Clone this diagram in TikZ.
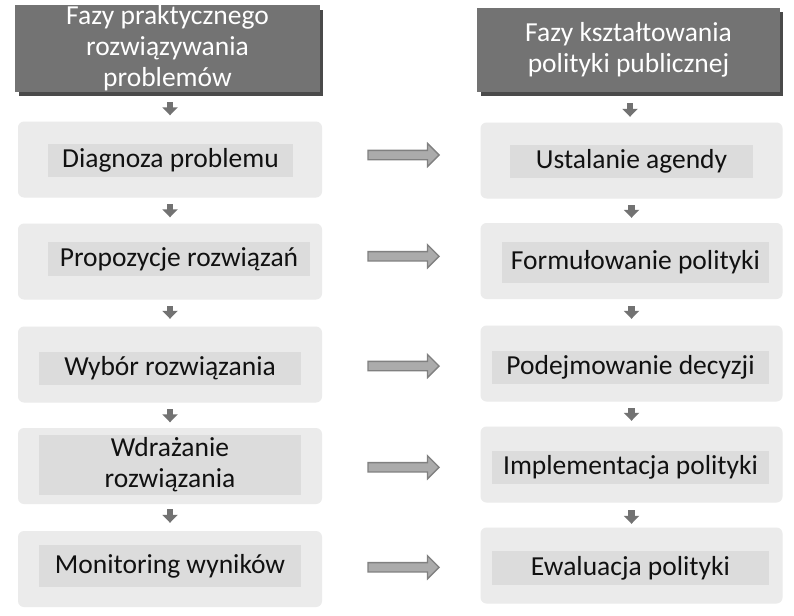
\documentclass[tikz,border=0pt]{standalone}
\usepackage{fontspec}
\setmainfont{Carlito}
\usetikzlibrary{shapes.arrows,arrows.meta,calc}
\definecolor{hdr}{HTML}{737373}
\definecolor{hdrsh}{HTML}{4A4A4A}
\definecolor{outerc}{HTML}{EBEBEB}
\definecolor{innerc}{HTML}{DCDCDC}
\definecolor{arrfill}{HTML}{ABABAB}
\definecolor{arrline}{HTML}{808080}
\definecolor{smallc}{HTML}{727272}
\definecolor{txt}{HTML}{111111}
\begin{document}
\begin{tikzpicture}[x=1pt,y=-1pt,
  every node/.style={font=\fontsize{27.5}{31}\selectfont},
  hdrbox/.style={fill=hdr, text=white, align=center, inner sep=0pt},
  hdrshadow/.style={fill=hdrsh},
  outerbox/.style={fill=outerc, rounded corners=6pt, minimum width=302pt, minimum height=76pt, inner sep=0pt},
  innerbox/.style={fill=innerc, text=txt, minimum height=33pt, inner sep=0pt, align=center},
  flowarr/.style={smallc, line width=6.5pt, -{Triangle[width=15pt,length=8pt]}},
  bigarr/.style={single arrow, draw=arrline, fill=arrfill, line width=1.3pt, minimum height=71pt, inner sep=4pt, single arrow head extend=7pt}
]
\useasboundingbox (0,0) rectangle (794,615);
\fill[white] (0,0) rectangle (794,615);

% headers
\fill[hdrshadow] (19,10) rectangle (323,96);
\node[hdrbox, minimum width=305pt, minimum height=87pt] (LH) at (167.5,48.5) {Fazy praktycznego\\rozwiązywania\\problemów};
\fill[hdrshadow] (481,12) rectangle (783,96);
\node[hdrbox, minimum width=303pt, minimum height=84pt] (RH) at (628.5,50) {Fazy kształtowania\\polityki publicznej};

% left column outer boxes
\node[outerbox, minimum width=304pt] (LO1) at (170,159.5) {};
\node[outerbox, minimum width=304pt] (LO2) at (170,261.5) {};
\node[outerbox, minimum width=304pt] (LO3) at (170,364.5) {};
\node[outerbox, minimum width=304pt] (LO4) at (170,466) {};
\node[outerbox, minimum width=304pt] (LO5) at (170,569) {};
% right column outer boxes
\node[outerbox] (RO1) at (631.5,160.5) {};
\node[outerbox] (RO2) at (631.5,261) {};
\node[outerbox] (RO3) at (631.5,363.5) {};
\node[outerbox] (RO4) at (631.5,464.5) {};
\node[outerbox] (RO5) at (631.5,565.5) {};

% left inner boxes
\node[innerbox, minimum width=245pt] (L1) at (170.5,160.5) {Diagnoza problemu};
\node[innerbox, minimum width=262pt, minimum height=34pt] (L2) at (179,259) {Propozycje rozwiązań};
\node[innerbox, minimum width=262pt] (L3) at (170,368.5) {Wybór rozwiązania};
\node[innerbox, minimum width=262pt, minimum height=60pt] (L4) at (170,465) {Wdrażanie\\rozwiązania};
\node[innerbox, minimum width=262pt, minimum height=42pt] (L5) at (170,566) {Monitoring wyników};
% right inner boxes
\node[innerbox, minimum width=243pt] (R1) at (631.5,161.5) {Ustalanie agendy};
\node[innerbox, minimum width=267pt, minimum height=41pt] (R2) at (635.5,262.5) {Formułowanie polityki};
\node[innerbox, minimum width=277pt] (R3) at (630.5,367.5) {Podejmowanie decyzji};
\node[innerbox, minimum width=277pt] (R4) at (630.5,467.5) {Implementacja polityki};
\node[innerbox, minimum width=277pt, minimum height=34pt] (R5) at (630.5,568) {Ewaluacja polityki};

% small downward flow arrows
\draw[flowarr] ($(LH.south)+(2.5,10)$) -- ($(LO1.north)+(0,-6)$);
\draw[flowarr] ($(LO1.south)+(0,6.5)$) -- ($(LO2.north)+(0,-6)$);
\draw[flowarr] ($(LO2.south)+(0,6.5)$) -- ($(LO3.north)+(0,-7.5)$);
\draw[flowarr] ($(LO3.south)+(0,6.5)$) -- ($(LO4.north)+(0,-5.5)$);
\draw[flowarr] ($(LO4.south)+(0,5)$) -- ($(LO5.north)+(0,-8)$);
\draw[flowarr] ($(RH.south)+(1.5,11)$) -- ($(RO1.north)+(-1.5,-5.5)$);
\draw[flowarr] ($(RO1.south)+(0,6.5)$) -- ($(RO2.north)+(0,-5)$);
\draw[flowarr] ($(RO2.south)+(0,7)$) -- ($(RO3.north)+(0,-6.5)$);
\draw[flowarr] ($(RO3.south)+(0,6.5)$) -- ($(RO4.north)+(0,-5.5)$);
\draw[flowarr] ($(RO4.south)+(0,7.5)$) -- ($(RO5.north)+(0,-3.5)$);

% big horizontal arrows between columns
\path (LO1.east) -- (RO1.west) node[bigarr, midway, yshift=5pt] (A1) {};
\path (LO2.east) -- (RO2.west) node[bigarr, midway, yshift=5pt] (A2) {};
\path (LO3.east) -- (RO3.west) node[bigarr, midway, yshift=-2pt] (A3) {};
\path (LO4.east) -- (RO4.west) node[bigarr, midway, yshift=-2pt] (A4) {};
\path (LO5.east) -- (RO5.west) node[bigarr, midway, yshift=0pt] (A5) {};
\end{tikzpicture}
\end{document}
